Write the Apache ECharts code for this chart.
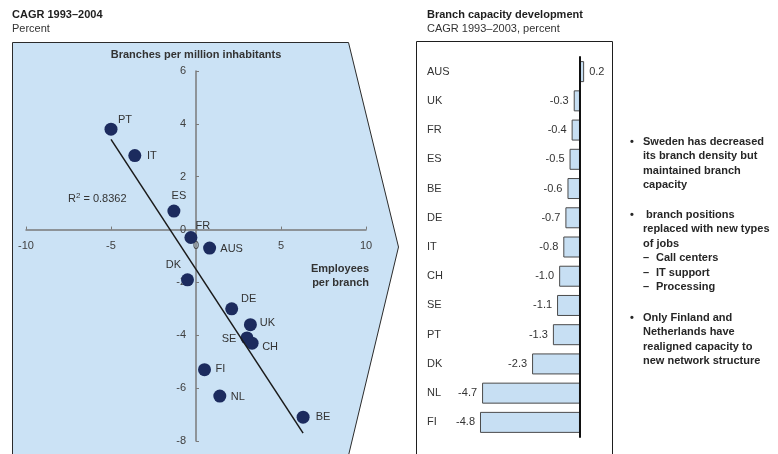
<!DOCTYPE html>
<html>
<head>
<meta charset="utf-8">
<script src="https://cdn.jsdelivr.net/npm/echarts@6/dist/echarts.min.js"></script>
<style>
  html, body { margin: 0; padding: 0; background: #ffffff; }
  #chart { width: 778px; height: 454px; }
</style>
</head>
<body>
<div id="chart"></div>
<script>
// Left panel: CAGR 1993–2004, employees per branch vs branches per million inhabitants
const scatterCountries = ['PT', 'IT', 'ES', 'FR', 'AUS', 'DK', 'DE', 'UK', 'SE', 'CH', 'FI', 'NL', 'BE'];
const employeesPerBranch = [-5.0, -3.6, -1.3, -0.3, 0.8, -0.5, 2.1, 3.2, 3.0, 3.3, 0.5, 1.4, 6.3];
const branchesPerMillion = [3.8, 2.8, 0.7, -0.3, -0.7, -1.9, -3.0, -3.6, -4.1, -4.3, -5.3, -6.3, -7.1];
const rSquaredText = '0.8362';

// Right panel: branch capacity development, CAGR 1993–2003
const capacityCountries = ['AUS', 'UK', 'FR', 'ES', 'BE', 'DE', 'IT', 'CH', 'SE', 'PT', 'DK', 'NL', 'FI'];
const capacityGrowth = [0.2, -0.3, -0.4, -0.5, -0.6, -0.7, -0.8, -1.0, -1.1, -1.3, -2.3, -4.7, -4.8];

// Commentary
const bulletBlocks = [
  { lines: ['Sweden has decreased', 'its branch density but', 'maintained branch', 'capacity'], sub: [] },
  { lines: [' branch positions', 'replaced with new types', 'of jobs'], sub: ['Call centers', 'IT support', 'Processing'] },
  { lines: ['Only Finland and', 'Netherlands have', 'realigned capacity to', 'new network structure'], sub: [] }
];

// Label placement around each scatter dot (pixel offsets from the dot centre)
const labelOffsets = {
  PT: [14, -9], IT: [17, 0], ES: [5, -15], FR: [12, -12], AUS: [22, 1], DK: [-14, -15],
  DE: [17, -10], UK: [17, -2], SE: [-18, 1], CH: [18, 4], FI: [16, -1], NL: [18, 1], BE: [20, 0]
};

const FONT = '"Liberation Sans", Arial, sans-serif';
const TEXT = '#262626';
const PANEL_BLUE = '#cbe2f5';
const BAR_BLUE = '#c7dff3';
const NAVY = '#1c2b5e';

// Scatter grid and axis ranges; the axes cross at the origin
const SG = { left: 26, top: 71, width: 340, height: 370 };
const X_RANGE = [-10, 10];
const Y_RANGE = [-8, 6];
const xAxisShift = -SG.height * (0 - Y_RANGE[0]) / (Y_RANGE[1] - Y_RANGE[0]);
const yAxisShift = -SG.width * (0 - X_RANGE[0]) / (X_RANGE[1] - X_RANGE[0]);

// Least-squares fit line through the scatter points
function fitLine(xs, ys) {
  const n = xs.length;
  const mx = xs.reduce((a, b) => a + b, 0) / n;
  const my = ys.reduce((a, b) => a + b, 0) / n;
  let sxy = 0, sxx = 0;
  for (let i = 0; i < n; i++) {
    sxy += (xs[i] - mx) * (ys[i] - my);
    sxx += (xs[i] - mx) * (xs[i] - mx);
  }
  const slope = sxy / sxx;
  const intercept = my - slope * mx;
  const x0 = Math.min(...xs), x1 = Math.max(...xs);
  return [[x0, intercept + slope * x0], [x1, intercept + slope * x1]];
}

const scatterData = scatterCountries.map((name, i) => ({
  name: name,
  value: [employeesPerBranch[i], branchesPerMillion[i]],
  label: { offset: labelOffsets[name] }
}));

const barData = capacityGrowth.map(v => ({
  value: v,
  label: { position: v < 0 ? 'left' : 'right' }
}));

// Commentary text elements, one per line
const bulletStarts = [142, 215, 318];
const LINE_STEP = 14.4;
const commentary = [];
bulletBlocks.forEach((block, b) => {
  let y = bulletStarts[b];
  commentary.push({
    type: 'text', x: 630, y: y,
    style: { text: '•', font: 'bold 11px ' + FONT, fill: TEXT, textAlign: 'left', textVerticalAlign: 'middle' }
  });
  block.lines.forEach(line => {
    commentary.push({
      type: 'text', x: 643, y: y,
      style: { text: line, font: 'bold 11px ' + FONT, fill: TEXT, textAlign: 'left', textVerticalAlign: 'middle' }
    });
    y += LINE_STEP;
  });
  block.sub.forEach(line => {
    commentary.push({
      type: 'text', x: 643, y: y,
      style: { text: '–', font: 'bold 11px ' + FONT, fill: TEXT, textAlign: 'left', textVerticalAlign: 'middle' }
    });
    commentary.push({
      type: 'text', x: 656, y: y,
      style: { text: line, font: 'bold 11px ' + FONT, fill: TEXT, textAlign: 'left', textVerticalAlign: 'middle' }
    });
    y += LINE_STEP;
  });
});

const chart = echarts.init(document.getElementById('chart'), null, { renderer: 'canvas' });

chart.setOption({
  backgroundColor: '#ffffff',
  animation: false,
  textStyle: { fontFamily: FONT },
  graphic: [
    // arrow-shaped backdrop of the scatter panel
    {
      type: 'polygon', z: -10, silent: true,
      shape: { points: [[12.5, 42.5], [348.5, 42.5], [398.5, 247], [345, 470], [12.5, 470]] },
      style: { fill: PANEL_BLUE, stroke: '#2b2b2b', lineWidth: 1 }
    },
    // frame of the bar panel
    {
      type: 'rect', z: -10, silent: true,
      shape: { x: 416.5, y: 41.5, width: 196, height: 440 },
      style: { fill: '#ffffff', stroke: '#1e1e1e', lineWidth: 1 }
    },
    { type: 'text', x: 12, y: 15, style: { text: 'CAGR 1993–2004', font: 'bold 11px ' + FONT, fill: '#1e1e1e', textVerticalAlign: 'middle' } },
    { type: 'text', x: 12, y: 29, style: { text: 'Percent', font: '11px ' + FONT, fill: '#333333', textVerticalAlign: 'middle' } },
    { type: 'text', x: 427, y: 15, style: { text: 'Branch capacity development', font: 'bold 11px ' + FONT, fill: '#1e1e1e', textVerticalAlign: 'middle' } },
    { type: 'text', x: 427, y: 29, style: { text: 'CAGR 1993–2003, percent', font: '11px ' + FONT, fill: '#333333', textVerticalAlign: 'middle' } },
    { type: 'text', x: 369, y: 269, style: { text: 'Employees', font: 'bold 11px ' + FONT, fill: '#333333', textAlign: 'right', textVerticalAlign: 'middle' } },
    { type: 'text', x: 369, y: 283, style: { text: 'per branch', font: 'bold 11px ' + FONT, fill: '#333333', textAlign: 'right', textVerticalAlign: 'middle' } },
    {
      type: 'text', x: 68, y: 199,
      style: {
        text: '{r|R}{s|2}{r| = ' + rSquaredText + '}',
        textVerticalAlign: 'middle',
        rich: {
          r: { fontSize: 11, fontFamily: FONT, fill: '#333333', color: '#333333' },
          s: { fontSize: 8, fontFamily: FONT, fill: '#333333', color: '#333333', verticalAlign: 'top', padding: [0, 0, 6, 0] }
        }
      }
    }
  ].concat(commentary),
  grid: [
    SG,
    { left: 455, top: 57, width: 145.8, height: 380 }
  ],
  xAxis: [
    {
      gridIndex: 0, type: 'value', min: X_RANGE[0], max: X_RANGE[1], interval: 5,
      position: 'bottom', offset: xAxisShift,
      axisLine: { onZero: false, lineStyle: { color: '#7a7a7a', width: 1.5 } },
      axisTick: { inside: true, length: 3, lineStyle: { color: '#7a7a7a' } },
      axisLabel: { margin: 11, fontSize: 11, color: '#404040', fontFamily: FONT },
      splitLine: { show: false }
    },
    {
      gridIndex: 1, type: 'value', min: -6, max: 1, show: false,
      splitLine: { show: false }
    }
  ],
  yAxis: [
    {
      gridIndex: 0, type: 'value', min: Y_RANGE[0], max: Y_RANGE[1], interval: 2,
      position: 'left', offset: yAxisShift,
      name: 'Branches per million inhabitants', nameLocation: 'end', nameGap: 11,
      nameTextStyle: { fontWeight: 'bold', fontSize: 11, color: '#333333', fontFamily: FONT },
      axisLine: { onZero: false, lineStyle: { color: '#7a7a7a', width: 1.5 } },
      axisTick: { inside: true, length: 3, lineStyle: { color: '#7a7a7a' } },
      axisLabel: { margin: 10, fontSize: 11, color: '#404040', fontFamily: FONT },
      splitLine: { show: false }
    },
    {
      // zero line of the bar panel
      gridIndex: 1, type: 'category', data: capacityCountries, inverse: true, z: 5,
      axisLine: { onZero: true, lineStyle: { color: '#111111', width: 2 } },
      axisTick: { show: false },
      axisLabel: { show: false }
    },
    {
      // country names at the left edge of the bar panel
      gridIndex: 1, type: 'category', data: capacityCountries, inverse: true, position: 'left',
      axisLine: { show: false, onZero: false },
      axisTick: { show: false },
      axisLabel: { align: 'left', margin: 28, fontSize: 11, color: '#333333', fontFamily: FONT }
    }
  ],
  series: [
    {
      type: 'line', xAxisIndex: 0, yAxisIndex: 0, z: 4,
      data: fitLine(employeesPerBranch, branchesPerMillion),
      symbol: 'none', silent: true,
      lineStyle: { color: '#1a1a1a', width: 1.5 }
    },
    {
      type: 'scatter', xAxisIndex: 0, yAxisIndex: 0, z: 3,
      data: scatterData,
      symbolSize: 13,
      itemStyle: { color: NAVY, opacity: 1 },
      label: {
        show: true, position: 'inside', formatter: '{b}',
        fontSize: 11, color: '#333333', fontFamily: FONT
      }
    },
    {
      type: 'bar', xAxisIndex: 1, yAxisIndex: 1,
      data: barData,
      barWidth: 21,
      itemStyle: { color: BAR_BLUE, borderColor: '#4a4a4a', borderWidth: 1 },
      label: {
        show: true, distance: 5, fontSize: 11, color: '#333333', fontFamily: FONT,
        formatter: p => p.value.toFixed(1)
      }
    }
  ]
});
</script>
</body>
</html>
